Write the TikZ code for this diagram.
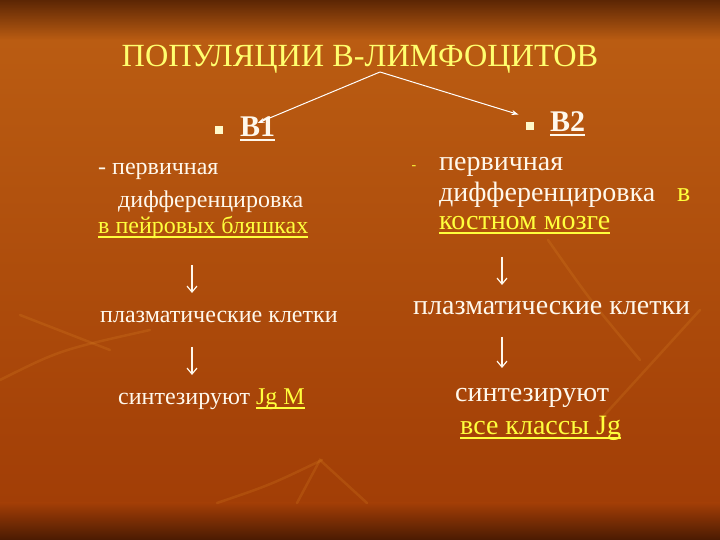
\documentclass[tikz,border=0pt]{standalone}
\usepackage{fontspec}
\setmainfont{Liberation Serif}
\usetikzlibrary{positioning,arrows.meta}

\definecolor{bgorange}{RGB}{186,92,18}
\definecolor{bglow}{RGB}{162,62,6}
\definecolor{bgdark}{RGB}{92,38,4}
\definecolor{bgbottom}{RGB}{74,26,2}
\definecolor{leaf}{RGB}{226,140,40}
\definecolor{titleyellow}{RGB}{255,255,110}
\definecolor{textyellow}{RGB}{255,255,60}
\definecolor{textwhite}{RGB}{255,248,236}

% underline with a thick bar
\newcommand{\uln}[1]{\leavevmode\setbox0\hbox{#1}\rlap{\raisebox{-4pt}{\rule{\wd0}{1.6pt}}}\box0}

\begin{document}
\begin{tikzpicture}[x=1pt, y=1pt,
        title/.style={anchor=base, inner sep=0pt, text=titleyellow, font=\fontsize{32.3}{36}\selectfont},
        group/.style={anchor=base west, inner sep=0pt, text=textwhite, font=\bfseries\fontsize{30}{34}\selectfont},
        bullet/.style={rectangle, fill=textwhite!85!yellow, inner sep=0pt, minimum size=8.5pt},
        lefttext/.style={anchor=base west, inner sep=0pt, text height=17pt, text depth=5pt, text=textwhite, font=\fontsize{24}{28}\selectfont},
        righttext/.style={anchor=base west, inner sep=0pt, text height=20pt, text depth=6pt, text=textwhite, font=\fontsize{28}{30}\selectfont},
        pick/.style={-{Stealth[length=7pt, width=5pt]}, draw=white, line width=1pt},
        down/.style={-{Straight Barb[length=6pt, width=10pt]}, draw=textwhite, line width=1.2pt},
        stem/.style={draw=leaf, line width=2.5pt, opacity=0.2, line cap=round}
    ]

    % background
    \shade[top color=bgorange, bottom color=bglow] (0,37) rectangle (720,500);
    \shade[top color=bgdark, bottom color=bgorange] (0,500) rectangle (720,540);
    \shade[top color=bglow, bottom color=bgbottom] (0,0) rectangle (720,37);
    \useasboundingbox (0,0) rectangle (720,540);

    % faint leaf stems
    \draw[stem] (0,160) .. controls (60,190) .. (150,210);
    \draw[stem] (20,225) -- (110,190);
    \draw[stem] (217,37) .. controls (270,55) .. (322,80);
    \draw[stem] (297,37) -- (320,80) -- (367,37);
    \draw[stem] (548,300) .. controls (590,240) .. (640,180);
    \draw[stem] (600,120) -- (700,230);

    % heading and the two groups
    \node[title] (title) at (360,473) {ПОПУЛЯЦИИ В-ЛИМФОЦИТОВ};
    \coordinate (top) at (380,468);
    \node[bullet] (bul1) at (219,410) {};
    \node[group]  (b1)   at (240,403) {\uln{B1}};
    \node[bullet] (bul2) at (530,414) {};
    \node[group]  (b2)   at (550,408) {\uln{B2}};

    \draw[pick] (top) -- ([yshift=-6pt]b1.north);
    \draw[pick] (top) -- ([shift={(-7pt,7pt)}]bul2.north west);

    % B1 column
    \node[lefttext] (l1) at (98,365)  {- первичная};
    \node[lefttext] (l2) at (118,332) {дифференцировка};
    \node[lefttext, text=textyellow] (l3) at (98,306) {\uln{в пейровых бляшках}};
    \node[lefttext] (l4) at (100,217) {плазматические клетки};
    \node[lefttext] (l5) at (118,135) {синтезируют \textcolor{textyellow}{\uln{Jg M}}};
    \coordinate (la1) at (192,275);
    \coordinate (la2) at (192,247);
    \coordinate (lb1) at (192,193);
    \coordinate (lb2) at (192,165);
    \draw[down] (la1) -- (la2);
    \draw[down] (lb1) -- (lb2);

    % B2 column
    \node[anchor=base, inner sep=0pt, text=textyellow, font=\fontsize{14}{16}\selectfont] (dash) at (414,370) {-};
    \node[righttext] (r1) at (439,369) {первичная};
    \node[righttext] (r2) at (439,338) {дифференцировка};
    \node[righttext, text=textyellow] (r2b) at (677,338) {в};
    \node[righttext, text=textyellow] (r3) at (439,310) {\uln{костном мозге}};
    \node[righttext] (r4) at (413,225) {плазматические клетки};
    \node[righttext] (r5) at (455,138) {синтезируют};
    \node[righttext, text=textyellow] (r6) at (460,105) {\uln{все классы Jg}};
    \coordinate (ra1) at (502,283);
    \coordinate (ra2) at (502,255);
    \coordinate (rb1) at (502,203);
    \coordinate (rb2) at (502,172);
    \draw[down] (ra1) -- (ra2);
    \draw[down] (rb1) -- (rb2);
\end{tikzpicture}
\end{document}
